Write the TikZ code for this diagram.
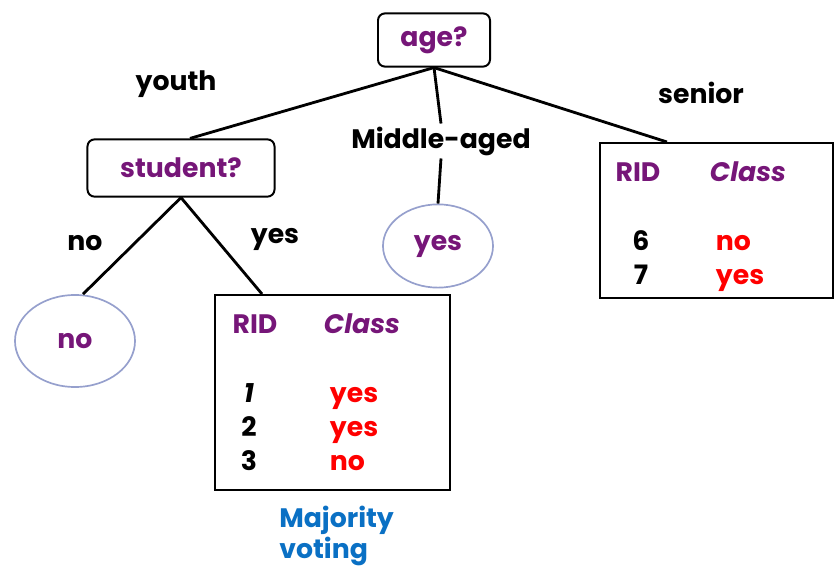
\documentclass[tikz,border=0pt]{standalone}
\usepackage{fontspec}
\setmainfont{Poppins}
\usepackage{xcolor}
\usetikzlibrary{calc, shapes.geometric, positioning}

\definecolor{plum}{RGB}{118,22,120}
\definecolor{leafline}{RGB}{150,160,205}
\definecolor{voteblue}{RGB}{10,112,196}

\tikzset{
    test/.style={draw, rounded corners=5pt, line width=1.4pt, font=\fontsize{19}{22}\selectfont\bfseries, text=plum},
    leaf/.style={draw=leafline, ellipse, line width=1.2pt, font=\fontsize{19}{22}\selectfont\bfseries, text=plum},
    tab/.style={draw, line width=1.4pt, inner sep=0pt},
    lbl/.style={font=\fontsize{19}{22}\selectfont\bfseries},
    branch/.style={line width=2pt}
}

\begin{document}
\begin{tikzpicture}[x=0.025cm, y=-0.025cm]
    \useasboundingbox (0,0) rectangle (835,572);

    % Root and first split
    \node[test, minimum width=2.8cm, minimum height=1.33cm] (age) at (434,40) {age?};
    \node[test, minimum width=4.675cm, minimum height=1.43cm] (student) at (181,168) {student?};
    \node[lbl, fill=white, inner sep=2pt] (mid) at (441,141) {Middle-aged};
    \node[leaf, minimum width=2.75cm, minimum height=2.08cm] (yesleaf) at (438,246) {yes};
    \node[leaf, minimum width=3cm, minimum height=2.3cm] (noleaf) at (75,341) {no};

    % Partitions
    \node[tab, minimum width=5.875cm, minimum height=4.875cm] (tabA) at (332.5,392.5) {};
    \node[tab, minimum width=5.825cm, minimum height=3.875cm] (tabB) at (716.5,220.5) {};

    % Branches
    \draw[branch] (age.south) -- ($(student.north)+(9,0)$);
    \draw[branch] (age.south) -- (mid.north);
    \draw[branch] (mid.south) -- (yesleaf.north);
    \draw[branch] (age.south) -- ($(tabB.north west)+(68,0)$);
    \draw[branch] (student.south) -- ($(noleaf.north)+(8,0)$);
    \draw[branch] (student.south) -- ($(tabA.north west)+(48,0)$);

    % Branch labels
    \node[lbl] (lyouth) at (176,84) {youth};
    \node[lbl] (lsenior) at (701,93) {senior};
    \node[lbl] (lno) at (85,243) {no};
    \node[lbl] (lyes) at (275,239) {yes};

    % Table A
    \node[lbl, text=plum] (ridA) at (255,324) {RID};
    \node[lbl, text=plum] (clsA) at (362,324) {\itshape Class};
    \foreach \r/\v/\y in {\itshape 1/yes/402, 2/yes/436, 3/no/470} {
        \node[lbl, anchor=base] at (249,\y) {\r};
        \node[lbl, text=red, anchor=base west] at (325,\y) {\v};
    }

    % Table B
    \node[lbl, text=plum] (ridB) at (638,172) {RID};
    \node[lbl, text=plum] (clsB) at (748,172) {\itshape Class};
    \foreach \r/\v/\y in {6/no/250, 7/yes/284} {
        \node[lbl, anchor=base] at (641,\y) {\r};
        \node[lbl, text=red, anchor=base west] at (711,\y) {\v};
    }

    \node[lbl, text=voteblue, align=left, anchor=north west, inner sep=0pt] (vote) at (279,506) {Majority\\voting};
\end{tikzpicture}
\end{document}
